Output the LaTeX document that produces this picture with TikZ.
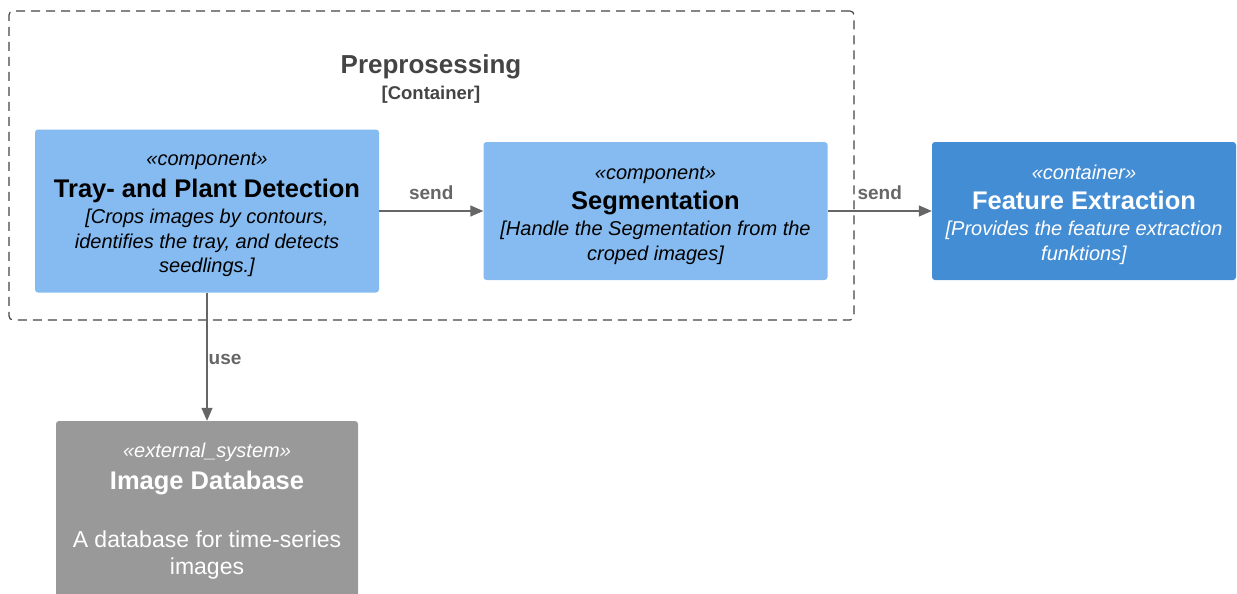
\documentclass[tikz,border=0pt]{standalone}
\usepackage{fontspec}
\setmainfont{Liberation Sans}
\usetikzlibrary{arrows.meta}

\definecolor{compblue}{HTML}{85BBF0}
\definecolor{contblue}{HTML}{438DD5}
\definecolor{extgray}{HTML}{999999}
\definecolor{boundgray}{HTML}{444444}
\definecolor{relgray}{HTML}{666666}

\newcommand\StereoFont{\fontsize{20}{24.5}\selectfont\mdseries\itshape}
\newcommand\NameFont{\fontsize{25.5}{24.5}\selectfont\bfseries\upshape}
\newcommand\DescFont{\fontsize{20}{24.5}\selectfont\mdseries\itshape}
\newcommand\PlainFont{\fontsize{23}{24.5}\selectfont\mdseries\upshape}

\begin{document}
\begin{tikzpicture}[x=1pt,y=-1pt]
  \tikzset{BoxStyle/.style = {shape=rectangle,rounded corners=3pt,inner sep=0pt,align=center,minimum height=138pt,font=\fontsize{20}{24.5}\selectfont}}
  \tikzset{ComponentStyle/.style = {BoxStyle,fill=compblue,text=black,minimum width=344pt}}
  \tikzset{ContainerStyle/.style = {BoxStyle,fill=contblue,text=white,minimum width=304pt}}
  \tikzset{ExternalStyle/.style = {BoxStyle,fill=extgray,text=white,minimum width=302pt,minimum height=176pt}}
  \tikzset{BoundaryStyle/.style = {shape=rectangle,draw=boundgray,line width=1.2pt,dash pattern=on 9pt off 6pt,rounded corners=4pt,inner sep=0pt}}
  \tikzset{RelStyle/.style = {draw=relgray,line width=1.3pt,-{Triangle[length=13pt,width=11pt]}}}
  \tikzset{LabelStyle/.style = {text=relgray,font=\fontsize{19}{22}\selectfont\bfseries,inner sep=0pt}}
\useasboundingbox (0,0) rectangle (1237,594);
%
\node[BoundaryStyle,minimum width=845pt,minimum height=309pt] (prep) at (431.5,165.5) {};
\node[inner sep=0pt,align=center,text=boundgray,font=\fontsize{26}{26}\selectfont\bfseries] (preptitle) at (431,79)
  {Preprosessing\\\fontsize{18.5}{26}\selectfont [Container]};
%
\node[ComponentStyle,minimum height=163pt] (trayplant) at (207,211)
  {\StereoFont\rule{0pt}{21pt}«component»\\[7.5pt]\NameFont Tray- and Plant Detection\\[1.5pt]\DescFont [Crops images by contours,\\\DescFont identifies the tray, and detects\\\DescFont seedlings.]};
\node[ComponentStyle] (segment) at (655.5,211)
  {\StereoFont\rule{0pt}{22pt}«component»\\[6pt]\NameFont Segmentation\\[1.5pt]\DescFont [Handle the Segmentation from the\\\DescFont croped images]};
\node[ContainerStyle] (featext) at (1084,211)
  {\StereoFont\rule{0pt}{22pt}«container»\\[6pt]\NameFont Feature Extraction\\[1.5pt]\DescFont [Provides the feature extraction\\\DescFont funktions]};
\node[ExternalStyle] (imgdb) at (207,509)
  {\StereoFont\rule{0pt}{18.5pt}«external\_system»\\[7.5pt]\NameFont Image Database\\[33.5pt]\PlainFont A database for time-series\\[2.5pt]\PlainFont images};
%
\draw[RelStyle] (trayplant) -- node[LabelStyle,above=11pt] (sendseg) {send} (segment);
\draw[RelStyle] (segment) -- node[LabelStyle,above=11pt] (sendfeat) {send} (featext);
\draw[RelStyle] (trayplant) -- node[LabelStyle,right=1pt,yshift=-3pt] (usedb) {use} (imgdb);
\end{tikzpicture}
\end{document}
